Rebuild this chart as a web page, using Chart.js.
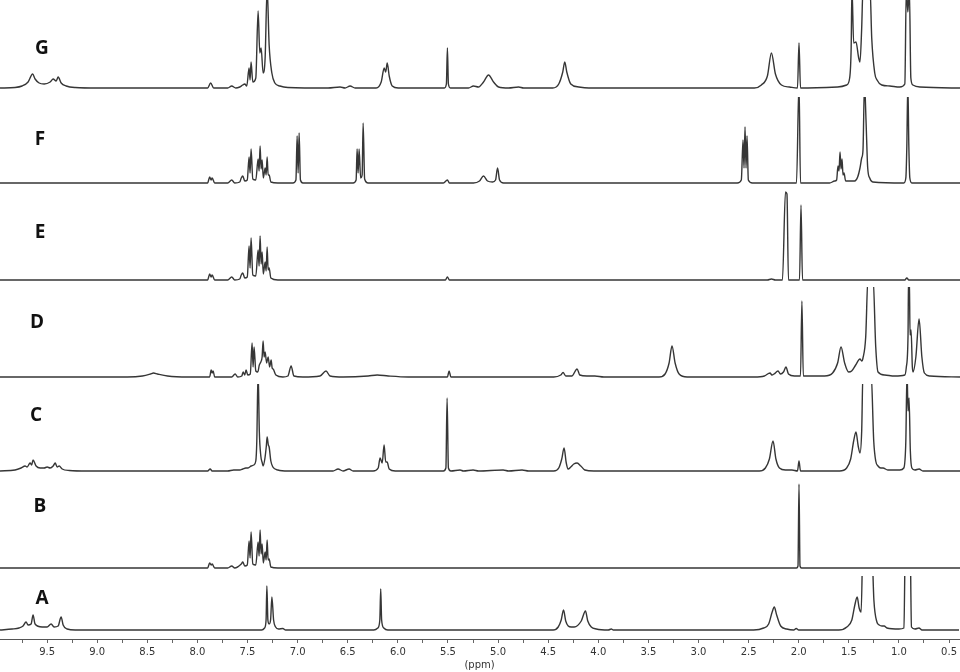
<!DOCTYPE html>
<html lang="en">
<head>
  <meta charset="UTF-8">
  <title>1H NMR - espectros A a G</title>
  <script src="https://cdn.jsdelivr.net/npm/chart.js"></script>
  <style>
    body { margin: 0; background: #fff; }
    #wrap { position: relative; width: 960px; height: 672px; overflow: hidden; }
    #wrap canvas { position: absolute; left: 0; }
    .tag {
      position: absolute;
      font: bold 19px "Open Sans", sans-serif;
      line-height: 19px;
      color: #111;
      transform: translateX(-50%);
    }
  </style>
</head>
<body>
  <div id="wrap"></div>

  <script>
    // chemical shift (ppm) and signal height above each baseline
    const specG = [
      [9.97, 0], [9.82, 0.5], [9.75, 2], [9.69, 6], [9.645, 14], [9.62, 9], [9.58, 5], [9.53, 4], [9.47, 6],
      [9.44, 9], [9.41, 7], [9.39, 11], [9.36, 5], [9.31, 2], [9.22, 0.5], [9.0, 0],
      [7.90, 0], [7.87, 5], [7.84, 0], [7.70, 0], [7.66, 2], [7.62, 0], [7.58, 1], [7.55, 3], [7.53, 4],
      [7.51, 2], [7.487, 20], [7.477, 8], [7.467, 26], [7.45, 6], [7.42, 10], [7.397, 77], [7.38, 35],
      [7.367, 40], [7.347, 15], [7.327, 30], [7.307, 100], [7.287, 43], [7.26, 15], [7.23, 5], [7.18, 2],
      [7.10, 0.5], [6.70, 0], [6.58, 1], [6.53, 0], [6.48, 2], [6.43, 0],
      [6.22, 0], [6.17, 6], [6.14, 20], [6.125, 16], [6.11, 25], [6.09, 12], [6.06, 2], [6.0, 0],
      [5.54, 0], [5.52, 4], [5.51, 40], [5.50, 4], [5.48, 0],
      [5.30, 0], [5.25, 2], [5.20, 1], [5.15, 6], [5.10, 13], [5.05, 6], [5.00, 1], [4.90, 0], [4.80, 1], [4.75, 0],
      [4.46, 0], [4.40, 4], [4.36, 16], [4.34, 26], [4.32, 16], [4.28, 4], [4.20, 1], [4.10, 0],
      [2.45, 0], [2.38, 3], [2.32, 12], [2.28, 35], [2.24, 14], [2.18, 3], [2.10, 1], [2.02, 0],
      [2.005, 45], [1.99, 0], [1.62, 1], [1.53, 3], [1.50, 10], [1.485, 40], [1.477, 100], [1.46, 45],
      [1.437, 46], [1.41, 30], [1.397, 26], [1.38, 60], [1.367, 100], [1.297, 100], [1.28, 50], [1.25, 15],
      [1.227, 8], [1.18, 3], [1.10, 2], [1.00, 1], [0.95, 4], [0.935, 100], [0.92, 76], [0.905, 100],
      [0.89, 10], [0.87, 3], [0.80, 1], [0.40, 0]
    ];
    const specF = [
      [9.97, 0], [7.90, 0], [7.88, 6], [7.865, 3], [7.855, 5], [7.83, 0], [7.70, 0], [7.66, 3], [7.63, 0],
      [7.58, 1], [7.565, 5], [7.55, 7], [7.53, 2], [7.505, 3], [7.487, 26], [7.477, 10], [7.467, 34],
      [7.45, 4], [7.42, 3], [7.397, 24], [7.387, 12], [7.377, 37], [7.367, 14], [7.357, 23], [7.345, 5],
      [7.327, 15], [7.317, 8], [7.307, 26], [7.297, 8], [7.287, 8], [7.27, 1], [7.20, 0],
      [7.05, 0], [7.02, 3], [7.008, 47], [6.998, 10], [6.988, 50], [6.975, 3], [6.95, 0],
      [6.45, 0], [6.42, 3], [6.41, 34], [6.40, 10], [6.39, 34], [6.375, 5], [6.36, 8], [6.35, 60],
      [6.335, 4], [6.30, 0], [5.55, 0], [5.51, 3], [5.49, 0],
      [5.25, 0], [5.19, 2], [5.15, 7], [5.11, 2], [5.06, 1], [5.03, 3], [5.01, 15], [4.99, 3], [4.95, 0],
      [2.62, 0], [2.58, 3], [2.563, 43], [2.553, 15], [2.543, 56], [2.533, 15], [2.523, 47], [2.51, 3],
      [2.47, 0], [2.03, 0], [2.005, 100], [1.99, 0], [1.70, 0], [1.65, 2], [1.63, 3], [1.616, 17],
      [1.606, 12], [1.596, 31], [1.586, 14], [1.576, 24], [1.566, 8], [1.556, 10], [1.54, 2],
      [1.45, 2], [1.42, 6], [1.397, 15], [1.38, 25], [1.367, 33], [1.352, 100], [1.337, 63],
      [1.32, 15], [1.30, 5], [1.27, 1], [0.96, 0], [0.94, 5], [0.93, 37], [0.92, 100], [0.91, 37],
      [0.90, 5], [0.88, 0], [0.40, 0]
    ];
    const specE = [
      [9.97, 0], [7.90, 0], [7.88, 6], [7.865, 3], [7.855, 5], [7.83, 0], [7.70, 0], [7.66, 3], [7.63, 0],
      [7.58, 1], [7.565, 5], [7.55, 7], [7.53, 2], [7.505, 3], [7.487, 34], [7.477, 12], [7.467, 42],
      [7.45, 5], [7.42, 4], [7.397, 30], [7.387, 14], [7.377, 44], [7.367, 16], [7.357, 28], [7.345, 6],
      [7.327, 18], [7.317, 9], [7.307, 33], [7.297, 10], [7.287, 12], [7.27, 2], [7.20, 0],
      [5.53, 0], [5.51, 3], [5.49, 0], [2.32, 0], [2.28, 1], [2.24, 0],
      [2.17, 0], [2.14, 88], [2.125, 86], [2.11, 0], [2.00, 0], [1.985, 75], [1.97, 0],
      [0.95, 0], [0.93, 2], [0.91, 0], [0.40, 0]
    ];
    const specD = [
      [9.97, 0], [8.70, 0], [8.55, 1], [8.47, 3], [8.44, 4], [8.40, 3], [8.30, 1], [8.10, 0],
      [7.88, 0], [7.865, 7], [7.855, 4], [7.845, 6], [7.83, 0], [7.66, 0], [7.626, 3], [7.60, 0],
      [7.56, 1], [7.546, 5], [7.53, 2], [7.517, 7], [7.50, 2], [7.475, 3], [7.457, 34], [7.447, 10],
      [7.437, 30], [7.42, 6], [7.40, 5], [7.385, 12], [7.37, 15], [7.357, 20], [7.347, 36], [7.337, 20],
      [7.327, 25], [7.312, 14], [7.297, 20], [7.282, 10], [7.267, 17], [7.257, 9], [7.247, 8],
      [7.22, 2], [7.15, 0], [7.10, 1], [7.068, 11], [7.04, 1], [6.95, 0], [6.78, 1], [6.72, 6],
      [6.68, 1], [6.55, 0], [6.30, 1], [6.21, 2], [6.10, 1], [5.90, 0], [5.51, 0], [5.493, 6],
      [5.475, 0], [4.45, 0], [4.38, 2], [4.357, 4.5], [4.33, 1], [4.27, 1], [4.217, 8], [4.19, 2],
      [4.12, 1], [4.04, 1], [3.95, 0], [3.40, 0], [3.34, 3], [3.30, 14], [3.271, 31], [3.24, 14],
      [3.20, 3], [3.12, 0], [2.45, 0], [2.35, 1], [2.294, 4], [2.275, 2], [2.254, 3], [2.214, 6],
      [2.19, 3], [2.16, 5], [2.135, 10], [2.11, 3], [2.05, 1], [1.99, 1], [1.976, 76], [1.962, 1],
      [1.90, 1], [1.75, 1], [1.67, 4], [1.62, 14], [1.586, 30], [1.55, 14], [1.51, 5], [1.48, 6],
      [1.44, 12], [1.397, 18], [1.38, 16], [1.367, 19], [1.34, 40], [1.317, 100], [1.267, 100],
      [1.24, 30], [1.217, 5], [1.15, 2], [1.05, 1], [0.95, 2], [0.935, 10], [0.918, 42], [0.913, 100],
      [0.905, 100], [0.898, 42], [0.888, 47], [0.875, 10], [0.868, 5], [0.84, 20], [0.808, 58],
      [0.78, 20], [0.755, 4], [0.70, 1], [0.40, 0]
    ];
    const specC = [
      [9.97, 0], [9.82, 1], [9.76, 3], [9.72, 5], [9.70, 4], [9.67, 8], [9.655, 6], [9.64, 11],
      [9.61, 5], [9.57, 3], [9.53, 3], [9.50, 4], [9.47, 3], [9.44, 5], [9.42, 8], [9.40, 4],
      [9.38, 5], [9.35, 2], [9.28, 0.5], [9.10, 0], [7.90, 0], [7.875, 2], [7.855, 0], [7.70, 0],
      [7.64, 1], [7.58, 1], [7.55, 2], [7.52, 3], [7.50, 3], [7.48, 4], [7.467, 5], [7.44, 6],
      [7.42, 10], [7.41, 30], [7.397, 100], [7.385, 40], [7.37, 15], [7.355, 8], [7.347, 5],
      [7.33, 12], [7.315, 25], [7.307, 34], [7.295, 26], [7.287, 24], [7.27, 10], [7.25, 4],
      [7.20, 1], [7.10, 0], [6.65, 0], [6.60, 2], [6.55, 0], [6.49, 2], [6.45, 0], [6.25, 0],
      [6.20, 3], [6.181, 13], [6.16, 8], [6.141, 26], [6.125, 9], [6.111, 9], [6.09, 2], [6.03, 0],
      [5.55, 0], [5.525, 3], [5.513, 73], [5.50, 3], [5.475, 0], [5.384, 1], [5.35, 0], [5.254, 1],
      [5.20, 0], [4.955, 1], [4.90, 0], [4.766, 1], [4.70, 0], [4.45, 0], [4.40, 3], [4.37, 12],
      [4.347, 23], [4.325, 8], [4.307, 2], [4.28, 4], [4.25, 7], [4.217, 8], [4.18, 5], [4.14, 1],
      [4.05, 0], [2.40, 0], [2.34, 3], [2.30, 12], [2.264, 30], [2.235, 12], [2.20, 3], [2.14, 1],
      [2.075, 1], [2.02, 0], [2.005, 10], [1.99, 0], [1.60, 0], [1.53, 3], [1.49, 12], [1.46, 30],
      [1.437, 39], [1.415, 25], [1.397, 18], [1.38, 40], [1.367, 100], [1.287, 100], [1.26, 30],
      [1.24, 10], [1.217, 5], [1.19, 3], [1.167, 3], [1.12, 1], [1.00, 1], [0.96, 3], [0.94, 30],
      [0.928, 100], [0.918, 60], [0.908, 73], [0.895, 20], [0.88, 3], [0.85, 1], [0.808, 2],
      [0.77, 0], [0.40, 0]
    ];
    const specB = [
      [9.97, 0], [7.90, 0], [7.88, 5], [7.865, 3], [7.855, 4], [7.83, 0], [7.70, 0], [7.66, 2],
      [7.63, 0], [7.565, 4], [7.55, 6], [7.53, 2], [7.505, 3], [7.487, 27], [7.477, 10], [7.467, 36],
      [7.45, 4], [7.42, 3], [7.397, 26], [7.387, 12], [7.377, 38], [7.367, 14], [7.357, 24],
      [7.345, 5], [7.327, 16], [7.317, 8], [7.307, 28], [7.297, 8], [7.287, 9], [7.27, 1], [7.20, 0],
      [2.03, 0], [2.015, 2], [2.005, 84], [1.995, 2], [1.98, 0], [0.40, 0]
    ];
    const specA = [
      [9.97, 0], [9.85, 1], [9.78, 2], [9.74, 4], [9.71, 8], [9.69, 5], [9.66, 6], [9.64, 15],
      [9.62, 6], [9.55, 3], [9.50, 3], [9.46, 6], [9.43, 3], [9.39, 4], [9.36, 13], [9.34, 5],
      [9.30, 1], [9.22, 0], [7.36, 0], [7.33, 2], [7.315, 10], [7.307, 44], [7.297, 10], [7.285, 6],
      [7.27, 10], [7.257, 33], [7.24, 10], [7.22, 3], [7.19, 1], [7.148, 1.5], [7.12, 0],
      [6.24, 0], [6.20, 2], [6.18, 10], [6.171, 41], [6.162, 10], [6.14, 2], [6.10, 0],
      [4.45, 0], [4.40, 3], [4.37, 10], [4.347, 20], [4.325, 9], [4.30, 4], [4.27, 3], [4.24, 3],
      [4.17, 9], [4.128, 19], [4.105, 9], [4.07, 3], [4.02, 1], [3.90, 0], [3.87, 1], [3.85, 0],
      [2.45, 0], [2.35, 2], [2.30, 6], [2.265, 18], [2.244, 23], [2.22, 15], [2.18, 4], [2.12, 1],
      [2.05, 0], [2.025, 1.5], [2.00, 0], [1.60, 0], [1.52, 3], [1.47, 10], [1.44, 25], [1.417, 33],
      [1.397, 22], [1.377, 18], [1.357, 100], [1.277, 100], [1.25, 30], [1.22, 8], [1.197, 5],
      [1.17, 4], [1.147, 4], [1.12, 2], [1.00, 1], [0.95, 2], [0.935, 100], [0.91, 80], [0.89, 100],
      [0.875, 3], [0.84, 1], [0.80, 2], [0.77, 0], [0.40, 0]
    ];

    const sampleNames = ['G', 'F', 'E', 'D', 'C', 'B', 'A'];
    const sampleSpectra = [specG, specF, specE, specD, specC, specB, specA];
    const ppmTicks = [9.5, 9.0, 8.5, 8.0, 7.5, 7.0, 6.5, 6.0, 5.5, 5.0, 4.5, 4.0, 3.5, 3.0, 2.5, 2.0, 1.5, 1.0, 0.5];

    // where each trace sits on the page: top = where tall peaks get cut, base = baseline
    const panelTop  = [0, 97, 190, 287, 384, 480, 576];
    const panelBase = [88, 183, 280, 377, 471, 568, 630];
    const tagPos = [[42, 48], [40, 139], [40, 232], [37, 322], [36, 415], [40, 506], [42, 598]];
    const axisY = 639;

    const wrap = document.getElementById('wrap');

    sampleNames.forEach((name, i) => {
      const isLast = i === sampleNames.length - 1;
      const top = panelTop[i];
      const base = panelBase[i];
      const below = isLast ? axisY - base : 4;
      const height = isLast ? 672 - top : base - top + below;

      const canvas = document.createElement('canvas');
      canvas.width = 960;
      canvas.height = height;
      canvas.style.top = top + 'px';
      wrap.appendChild(canvas);

      const xScale = {
        type: 'linear',
        min: 0.40,
        max: 9.97,
        reverse: true,
        display: isLast
      };
      if (isLast) {
        Object.assign(xScale, {
          grid: { display: true, drawOnChartArea: false, drawTicks: true, tickLength: 4, color: '#666' },
          border: { display: true, color: '#555', width: 1 },
          ticks: {
            stepSize: 0.25,
            includeBounds: false,
            autoSkip: false,
            maxRotation: 0,
            padding: 3,
            color: '#333',
            font: { family: 'DejaVu Sans', size: 10 },
            callback: value => ppmTicks.some(t => Math.abs(t - value) < 1e-6) ? Number(value).toFixed(1) : ''
          },
          title: {
            display: true,
            text: '(ppm)',
            color: '#333',
            font: { family: 'DejaVu Sans', size: 10 },
            padding: { top: 0, bottom: 1 }
          },
          afterFit: scale => { scale.height = 672 - axisY; }
        });
      }

      new Chart(canvas.getContext('2d'), {
        type: 'line',
        data: {
          datasets: [{
            label: name,
            data: sampleSpectra[i].map(p => ({ x: p[0], y: p[1] })),
            borderColor: '#363636',
            borderWidth: 1.4,
            pointRadius: 0,
            fill: false,
            cubicInterpolationMode: 'monotone'
          }]
        },
        options: {
          responsive: false,
          animation: false,
          layout: { padding: 0 },
          plugins: { legend: { display: false }, tooltip: { enabled: false } },
          scales: {
            x: xScale,
            y: { type: 'linear', display: false, min: -below, max: base - top }
          }
        }
      });

      const tag = document.createElement('div');
      tag.className = 'tag';
      tag.textContent = name;
      tag.style.left = tagPos[i][0] + 'px';
      tag.style.top = (tagPos[i][1] - 10) + 'px';
      wrap.appendChild(tag);
    });
  </script>
</body>
</html>
